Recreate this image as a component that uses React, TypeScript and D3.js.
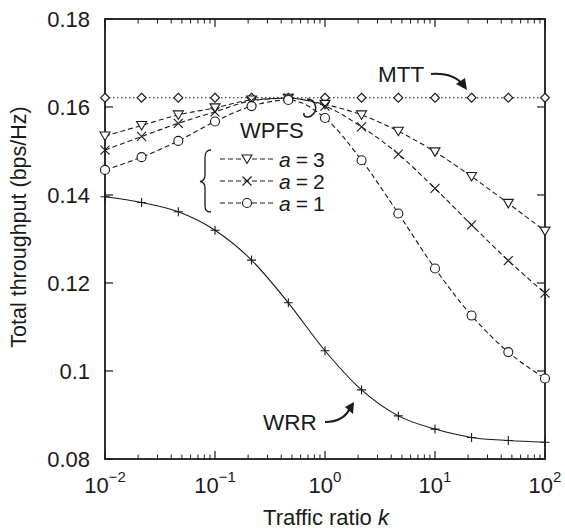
import React from "react";
import * as d3 from "d3";

const kValues = [0.01, 0.0215, 0.0464, 0.1, 0.215, 0.464, 1, 2.15, 4.64, 10, 21.5, 46.4, 100];
const mtt = [0.1621, 0.1621, 0.1621, 0.1621, 0.1621, 0.1621, 0.1621, 0.1621, 0.1621, 0.1621, 0.1621, 0.1621, 0.1621];
const wpfsA3 = [0.1534, 0.1558, 0.1582, 0.1598, 0.1616, 0.162, 0.1606, 0.1582, 0.1545, 0.1498, 0.1442, 0.1381, 0.1318];
const wpfsA2 = [0.1502, 0.1533, 0.1563, 0.1589, 0.1614, 0.162, 0.1602, 0.1555, 0.1493, 0.1415, 0.1332, 0.1251, 0.1177];
const wpfsA1 = [0.1457, 0.1486, 0.1523, 0.1567, 0.1602, 0.1616, 0.1575, 0.1479, 0.1358, 0.1233, 0.1126, 0.1043, 0.0983];
const wrr = [0.1396, 0.1383, 0.1362, 0.132, 0.1252, 0.1155, 0.1046, 0.0957, 0.0898, 0.0868, 0.0849, 0.0842, 0.0838];

const yTicks = [0.08, 0.1, 0.12, 0.14, 0.16, 0.18];
const yTickLabels = ["0.08", "0.1", "0.12", "0.14", "0.16", "0.18"];
const xTicks = [0.01, 0.1, 1, 10, 100];
const xTickExps = ["\u22122", "\u22121", "0", "1", "2"];
const legendLabels = ["3", "2", "1"];

const W = 565, H = 530;
const L = 105, R = 545, T = 19, B = 459;
const INK = "#1a1a1a";
const SANS = "'Liberation Sans', Arial, Helvetica, sans-serif";

const x = d3.scaleLog().domain([0.01, 100]).range([L, R]);
const y = d3.scaleLinear().domain([0.08, 0.18]).range([B, T]);

function marker(type: string, cx: number, cy: number, key: string | number) {
  const s = 4.5;
  const common = { fill: "none", stroke: INK, strokeWidth: 1.1 };
  if (type === "diamond")
    return <path key={key} d={`M${cx},${cy - s}L${cx + s},${cy}L${cx},${cy + s}L${cx - s},${cy}Z`} {...common} fill="white" />;
  if (type === "tri")
    return <path key={key} d={`M${cx - 5},${cy - 4}L${cx + 5},${cy - 4}L${cx},${cy + 4.5}Z`} {...common} fill="white" />;
  if (type === "x")
    return <path key={key} d={`M${cx - s},${cy - s}L${cx + s},${cy + s}M${cx - s},${cy + s}L${cx + s},${cy - s}`} {...common} />;
  if (type === "circle")
    return <circle key={key} cx={cx} cy={cy} r={4.5} {...common} fill="white" />;
  return <path key={key} d={`M${cx - s},${cy}L${cx + s},${cy}M${cx},${cy - s}L${cx},${cy + s}`} {...common} />;
}

export default function App() {
  const line = d3
    .line<number>()
    .x((_, i) => x(kValues[i]))
    .y((d) => y(d))
    .curve(d3.curveMonotoneX);

  const series = [
    { vals: mtt, m: "diamond", dash: "1.5,2.5" },
    { vals: wpfsA3, m: "tri", dash: "5,3" },
    { vals: wpfsA2, m: "x", dash: "5,3" },
    { vals: wpfsA1, m: "circle", dash: "5,3" },
    { vals: wrr, m: "plus", dash: "" },
  ];

  const minorTicks: number[] = [];
  for (let e = -2; e < 2; e++) for (let m = 2; m <= 9; m++) minorTicks.push(m * Math.pow(10, e));

  const legendY = [159, 181, 203];
  const legendMarks = ["tri", "x", "circle"];

  return (
    <svg width={W} height={H} style={{ position: "absolute", left: 0, top: 0, background: "white" }} fontFamily={SANS}>
      <rect x={0} y={0} width={W} height={H} fill="white" />
      {series.map((s, i) => (
        <path key={"l" + i} d={line(s.vals) || ""} fill="none" stroke={INK} strokeWidth={1.1} strokeDasharray={s.dash || undefined} />
      ))}
      <rect x={L} y={T} width={R - L} height={B - T} fill="none" stroke={INK} strokeWidth={1.8} />
      {xTicks.map((t, i) => (
        <g key={"xt" + i}>
          <line x1={x(t)} x2={x(t)} y1={B} y2={B - 8} stroke={INK} strokeWidth={1.2} />
          <line x1={x(t)} x2={x(t)} y1={T} y2={T + 8} stroke={INK} strokeWidth={1.2} />
          <text x={x(t)} y={493} textAnchor="middle" fontSize={22} fill={INK}>
            10<tspan dy={-11} fontSize={15}>{xTickExps[i]}</tspan>
          </text>
        </g>
      ))}
      {minorTicks.map((t, i) => (
        <g key={"mt" + i}>
          <line x1={x(t)} x2={x(t)} y1={B} y2={B - 4.5} stroke={INK} strokeWidth={1} />
          <line x1={x(t)} x2={x(t)} y1={T} y2={T + 4.5} stroke={INK} strokeWidth={1} />
        </g>
      ))}
      {yTicks.map((t, i) => (
        <g key={"yt" + i}>
          <line x1={L} x2={L + 8} y1={y(t)} y2={y(t)} stroke={INK} strokeWidth={1.2} />
          <line x1={R} x2={R - 8} y1={y(t)} y2={y(t)} stroke={INK} strokeWidth={1.2} />
          <text x={90} y={y(t) + 7.5} textAnchor="end" fontSize={22} fill={INK}>
            {yTickLabels[i]}
          </text>
        </g>
      ))}
      {series.map((s, i) => (
        <g key={"m" + i}>{s.vals.map((v, j) => marker(s.m, x(kValues[j]), y(v), j))}</g>
      ))}
      <text x={326} y={525} textAnchor="middle" fontSize={22} fill={INK}>
        Traffic ratio <tspan fontStyle="italic">k</tspan>
      </text>
      <text transform="translate(26,227) rotate(-90)" textAnchor="middle" fontSize={21.5} fill={INK}>
        Total throughput (bps/Hz)
      </text>
      {/* MTT annotation */}
      <text x={378} y={82} fontSize={22.5} fill={INK}>MTT</text>
      <path d="M431,74 C447,73 457,77 463,85" fill="none" stroke={INK} strokeWidth={2} />
      <path d="M467,90 L456,84 L465,78 Z" fill={INK} />
      {/* WRR annotation */}
      <text x={263} y={430} fontSize={22.5} fill={INK}>WRR</text>
      <path d="M325,422 C338,422 346,417 350,408" fill="none" stroke={INK} strokeWidth={2} />
      <path d="M354,402 L353,414 L345,407 Z" fill={INK} />
      {/* WPFS legend */}
      <path d="M307,99 C316,99 319,111 311,116 C307,118 303,117 304,113" fill="none" stroke={INK} strokeWidth={1.5} />
      <text x={240} y={138} fontSize={22} fill={INK}>WPFS</text>
      <path
        d="M211,150 C206,150 205,153 205,158 L205,175 C205,179 204,181 200,181.5 C204,182 205,184 205,188 L205,205 C205,210 206,212 211,212"
        fill="none"
        stroke={INK}
        strokeWidth={1.3}
      />
      {legendY.map((ly, i) => (
        <g key={"lg" + i}>
          <line x1={220} x2={275} y1={ly} y2={ly} stroke={INK} strokeWidth={1.1} strokeDasharray="5,3" />
          {marker(legendMarks[i], 247, ly, "lm" + i)}
          <text x={279} y={ly + 7.5} fontSize={21} fill={INK}>
            <tspan fontStyle="italic">a</tspan>
            <tspan dx={5}>=</tspan>
            <tspan dx={5}>{legendLabels[i]}</tspan>
          </text>
        </g>
      ))}
    </svg>
  );
}
